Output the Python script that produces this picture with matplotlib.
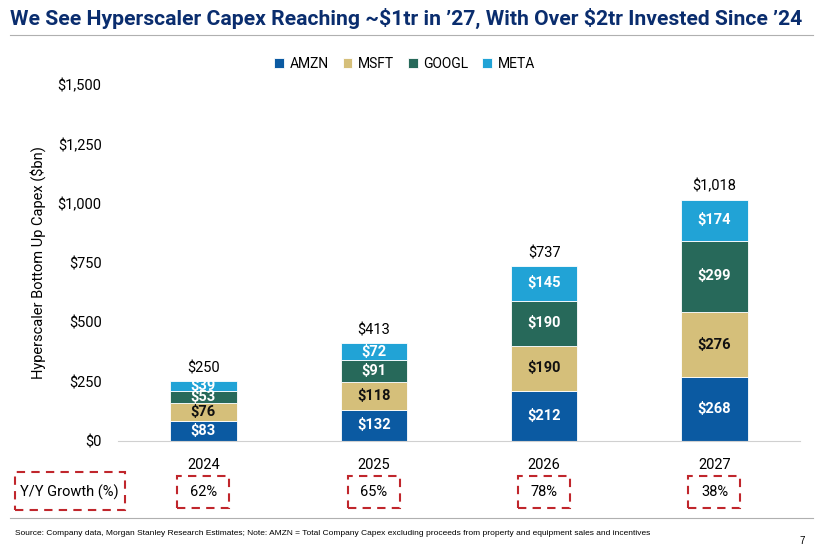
import matplotlib
matplotlib.use("Agg")
import matplotlib.pyplot as plt
from matplotlib.patches import Rectangle
import numpy as np

plt.rcParams['font.family'] = ['Roboto', 'DejaVu Sans']

years = ['2024', '2025', '2026', '2027']
amzn = [83, 132, 212, 268]
msft = [76, 118, 190, 276]
googl = [53, 91, 190, 299]
meta = [39, 72, 145, 174]
totals = ['$250', '$413', '$737', '$1,018']
growth = ['62%', '65%', '78%', '38%']
series = [('AMZN', amzn, '#0b5aa2', 'white'), ('MSFT', msft, '#d5bf7a', '#111111'),
          ('GOOGL', googl, '#27695a', 'white'), ('META', meta, '#21a3d6', 'white')]

fig = plt.figure(figsize=(8.21, 5.52), dpi=100)
ax = fig.add_axes([0.144, 0.201, 0.830, 0.645])
x = np.arange(len(years))
bottom = np.zeros(len(years))
for name, vals, col, tc in series:
    ax.bar(x, vals, 0.39, bottom=bottom, color=col, label=name, edgecolor='white', linewidth=0.6)
    for xi, b, v in zip(x, bottom, vals):
        ax.text(xi, b + v / 2, f'${v}', ha='center', va='center', color=tc, fontsize=10.5, fontweight='bold')
    bottom += vals
for xi, t, tot in zip(x, totals, bottom):
    ax.text(xi, tot + 25, t, ha='center', va='bottom', fontsize=10.5)
ax.set_xlim(-0.5, 3.5)
ax.set_ylim(0, 1500)
ax.set_yticks([0, 250, 500, 750, 1000, 1250, 1500])
ax.set_yticklabels(['$0', '$250', '$500', '$750', '$1,000', '$1,250', '$1,500'], fontsize=10.5)
ax.set_xticks(x)
ax.set_xticklabels(years, fontsize=10.5)
ax.tick_params(length=0, pad=12)
for s in ['top', 'right', 'left']:
    ax.spines[s].set_visible(False)
ax.spines['bottom'].set_color('#d0d0d0')
ax.set_ylabel('Hyperscaler Bottom Up Capex ($bn)', fontsize=10.5, labelpad=8)
ax.legend(loc='upper center', bbox_to_anchor=(0.42, 1.115), ncol=4, frameon=False,
          fontsize=10, handlelength=0.7, handleheight=0.7, columnspacing=1.0, handletextpad=0.4)

fig.text(0.012, 0.967, 'We See Hyperscaler Capex Reaching ~\\$1tr in \u201927, With Over \\$2tr Invested Since \u201924',
         fontsize=15.2, fontweight='bold', color='#0a2d6e', va='center')
fig.add_artist(plt.Line2D([0.012, 0.99], [0.937, 0.937], color='#b0b0b0', lw=0.8))
fig.add_artist(plt.Line2D([0.012, 0.99], [0.062, 0.062], color='#b0b0b0', lw=0.8))
fig.text(0.018, 0.034, 'Source: Company data, Morgan Stanley Research Estimates; Note: AMZN = Total Company Capex excluding proceeds from property and equipment sales and incentives',
         fontsize=6, va='center', family=['Liberation Sans'])
fig.text(0.98, 0.02, '7', fontsize=7, va='center', ha='right', family=['Liberation Sans'])

gy = 1 - 492 / 552
fig.text(69 / 821, gy, 'Y/Y Growth (%)', ha='center', va='center', fontsize=10.5)
fig.add_artist(Rectangle((15 / 821, 1 - 510 / 552), 110 / 821, 38 / 552, fill=False,
                         ec='#c0262c', lw=1.5, ls=(0, (4, 3)), transform=fig.transFigure))
for xi, g in zip(x, growth):
    fx = fig.transFigure.inverted().transform(ax.transData.transform((xi, 0)))[0]
    fig.text(fx, gy, g, ha='center', va='center', fontsize=10.5)
    fig.add_artist(Rectangle((fx - 26 / 821, 1 - 508 / 552), 52 / 821, 32 / 552, fill=False,
                             ec='#c0262c', lw=1.5, ls=(0, (4, 3)), transform=fig.transFigure))
fig.savefig('out.png', dpi=100)
